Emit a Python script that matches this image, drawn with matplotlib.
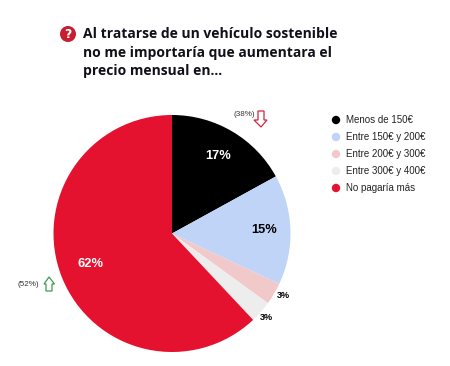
import matplotlib
matplotlib.use("Agg")
import matplotlib.pyplot as plt
from matplotlib.patches import Circle, Polygon

categories = ["Menos de 150€", "Entre 150€ y 200€", "Entre 200€ y 300€", "Entre 300€ y 400€", "No pagaría más"]
values = [17, 15, 3, 3, 62]
colors = ["#000000", "#BFD4F7", "#F2C9CB", "#EDEDED", "#E4112F"]
title_lines = ["Al tratarse de un vehículo sostenible", "no me importaría que aumentara el", "precio mensual en..."]
W, H = 450, 366
fig = plt.figure(figsize=(W/100, H/100), dpi=100, facecolor="white")

# overlay in pixel coordinates
ov = fig.add_axes([0, 0, 1, 1])
ov.set_xlim(0, W); ov.set_ylim(H, 0); ov.axis("off")
ov.set_zorder(3)

cx, cy, r = 172, 233.5, 118.5
ax = fig.add_axes([(cx-r)/W, 1-(cy+r)/H, 2*r/W, 2*r/H])
ax.pie(values, colors=colors, startangle=90, counterclock=False, radius=1,
       wedgeprops=dict(linewidth=0))
ax.set_xlim(-1, 1); ax.set_ylim(-1, 1); ax.set_aspect("equal"); ax.axis("off")

inner = [("17%", 218, 156), ("15%", 264, 230), ("62%", 90, 264)]
for s, x, y in inner:
    col = "black" if s == "15%" else "white"
    ov.text(x, y, s, color=col, fontsize=9.3, fontweight="bold", family="Liberation Sans",
            ha="center", va="center")
ov.text(283, 295, "3%", fontsize=6.5, fontweight="bold", family="Liberation Sans", ha="center", va="center")
ov.text(266, 318, "3%", fontsize=6.5, fontweight="bold", family="Liberation Sans", ha="center", va="center")

# title
ov.add_patch(Circle((68, 34), 8, color="#C81E32", lw=0))
ov.text(68, 34.3, "?", color="white", fontsize=9, fontweight="bold", family="DejaVu Sans", ha="center", va="center")
for y, t in zip([34, 52.5, 71.5], title_lines):
    ov.text(83, y, t, fontsize=10, fontweight="bold", family="Open Sans",
            color="#10101A", ha="left", va="center")

# legend
ly = [120, 137, 154, 171, 188]
for c, s, y in zip(colors, categories, ly):
    ov.add_patch(Circle((336, y), 4.2, color=c, lw=0))
    ov.text(346, y, s, fontsize=7, family="Liberation Sans", color="#222222", ha="left", va="center")

# previous-wave notes
ov.text(244, 114.5, "(38%)", fontsize=5.8, family="Liberation Sans", color="#333333", ha="center", va="center")
ov.add_patch(Polygon([(258,111),(264,111),(264,120),(267,120),(261,127),(254,120),(258,120)], closed=True,
                     fc="white", ec="#D0273C", lw=0.9))
ov.text(28, 284, "(52%)", fontsize=5.8, family="Liberation Sans", color="#333333", ha="center", va="center")
ov.add_patch(Polygon([(46,291),(52,291),(52,284),(54.5,284),(49,277),(44,284),(46,284)], closed=True,
                     fc="white", ec="#3E9B4F", lw=0.9))
fig.savefig("out.png", dpi=100, facecolor="white")
